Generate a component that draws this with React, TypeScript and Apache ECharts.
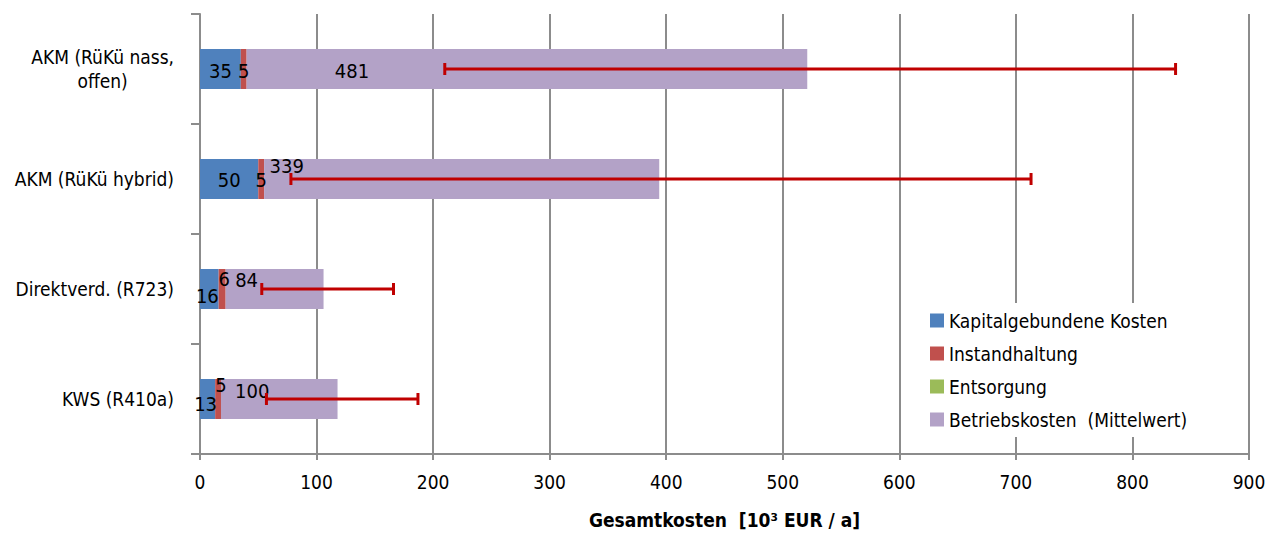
import React, { useEffect, useRef } from "react";
import * as echarts from "echarts";

const categories = ["AKM (RüKü nass,\noffen)", "AKM (RüKü hybrid)", "Direktverd. (R723)", "KWS (R410a)"];
const kapital = [35, 50, 16, 13];
const instand = [5, 5, 6, 5];
const entsorgung = [0, 0, 0, 0];
const betrieb = [481, 339, 84, 100];
const errLow = [210, 78, 53, 57];
const errHigh = [837, 713, 166, 187];
const xTicks = [0, 100, 200, 300, 400, 500, 600, 700, 800, 900];

const FONT = "'DejaVu Sans Condensed', 'Liberation Sans Narrow', sans-serif";

// label offsets (style only)
const kapitalOffsets = [[0, 2], [0, 1], [-2, 7], [-2, 5]];
const instandOffsets = [[0, 2], [0, 1], [2, -10], [3, -14]];
const betriebOffsets = [[-175, 2], [-175, -13], [-28, -9], [-27, -8]];

export default function App() {
  const ref = useRef<HTMLDivElement>(null);
  useEffect(() => {
    if (!ref.current) return;
    const chart = echarts.init(ref.current, null, { renderer: "svg" });
    const mkData = (vals: number[], offs: number[][]) =>
      vals.map((v, i) => ({ value: v, label: { offset: offs[i] } }));
    const labelStyle = {
      show: true,
      position: "inside",
      color: "#000",
      fontFamily: FONT,
      fontSize: 20,
      lineHeight: 16,
      formatter: (p: any) => String(p.value),
    };
    chart.setOption({
      animation: false,
      textStyle: { fontFamily: FONT },
      grid: { left: 200, right: 33, top: 14, bottom: 78, containLabel: false },
      legend: {
        orient: "vertical",
        left: 922,
        top: 303,
        padding: [8, 8, 8, 8],
        backgroundColor: "#fff",
        itemWidth: 14,
        itemHeight: 14,
        itemGap: 14,
        icon: "rect",
        textStyle: { fontFamily: FONT, fontSize: 19, color: "#000" },
        data: ["Kapitalgebundene Kosten", "Instandhaltung", "Entsorgung", "Betriebskosten  (Mittelwert)"],
      },
      xAxis: {
        type: "value",
        min: 0,
        max: 900,
        interval: 100,
        name: "Gesamtkosten  [10³ EUR / a]",
        nameLocation: "middle",
        nameGap: 56,
        nameTextStyle: { fontFamily: FONT, fontSize: 19, fontWeight: "bold", color: "#000" },
        axisLine: { show: true, lineStyle: { color: "#8c8c8c", width: 2 } },
        axisTick: { show: true, length: 6, lineStyle: { color: "#8c8c8c", width: 2 } },
        axisLabel: {
          fontFamily: FONT,
          fontSize: 19,
          color: "#000",
          margin: 18,
          formatter: (v: number) => (xTicks.includes(v) ? String(v) : ""),
        },
        splitLine: { show: true, lineStyle: { color: "#8c8c8c", width: 2 } },
      },
      yAxis: {
        type: "category",
        inverse: true,
        data: categories,
        axisLine: { show: true, lineStyle: { color: "#8c8c8c", width: 2 } },
        axisTick: { show: true, length: 9, lineStyle: { color: "#8c8c8c", width: 2 } },
        axisLabel: {
          margin: 26,
          fontFamily: FONT,
          fontSize: 19,
          color: "#000",
          formatter: (v: string) =>
            v
              .split("\n")
              .map((s) => "{c|" + s + "}")
              .join("\n"),
          rich: { c: { align: "center", fontFamily: FONT, fontSize: 19, color: "#000", lineHeight: 24 } },
        },
      },
      series: [
        {
          name: "Kapitalgebundene Kosten",
          type: "bar",
          stack: "total",
          barWidth: 40,
          itemStyle: { color: "#4F81BD" },
          label: labelStyle,
          data: mkData(kapital, kapitalOffsets),
        },
        {
          name: "Instandhaltung",
          type: "bar",
          stack: "total",
          itemStyle: { color: "#C0504D" },
          label: labelStyle,
          data: mkData(instand, instandOffsets),
        },
        {
          name: "Entsorgung",
          type: "bar",
          stack: "total",
          itemStyle: { color: "#9BBB59" },
          label: { show: false },
          data: entsorgung,
        },
        {
          name: "Betriebskosten  (Mittelwert)",
          type: "bar",
          stack: "total",
          itemStyle: { color: "#B3A2C7" },
          label: labelStyle,
          data: mkData(betrieb, betriebOffsets),
        },
        {
          type: "custom",
          name: "err",
          z: 10,
          data: errLow.map((lo, i) => [lo, errHigh[i], i]),
          encode: { x: [0, 1], y: 2 },
          renderItem: (params: any, api: any) => {
            const lo = api.value(0);
            const hi = api.value(1);
            const idx = api.value(2);
            const p1 = api.coord([lo, idx]);
            const p2 = api.coord([hi, idx]);
            const h = 6;
            const st = { stroke: "#C00000", lineWidth: 3 };
            return {
              type: "group",
              children: [
                { type: "line", shape: { x1: p1[0], y1: p1[1], x2: p2[0], y2: p2[1] }, style: st },
                { type: "line", shape: { x1: p1[0], y1: p1[1] - h, x2: p1[0], y2: p1[1] + h }, style: st },
                { type: "line", shape: { x1: p2[0], y1: p2[1] - h, x2: p2[0], y2: p2[1] + h }, style: st },
              ],
            };
          },
        },
      ],
    });
    return () => chart.dispose();
  }, []);
  return <div ref={ref} style={{ width: 1282, height: 534, position: "absolute", left: 0, top: 0 }} />;
}
